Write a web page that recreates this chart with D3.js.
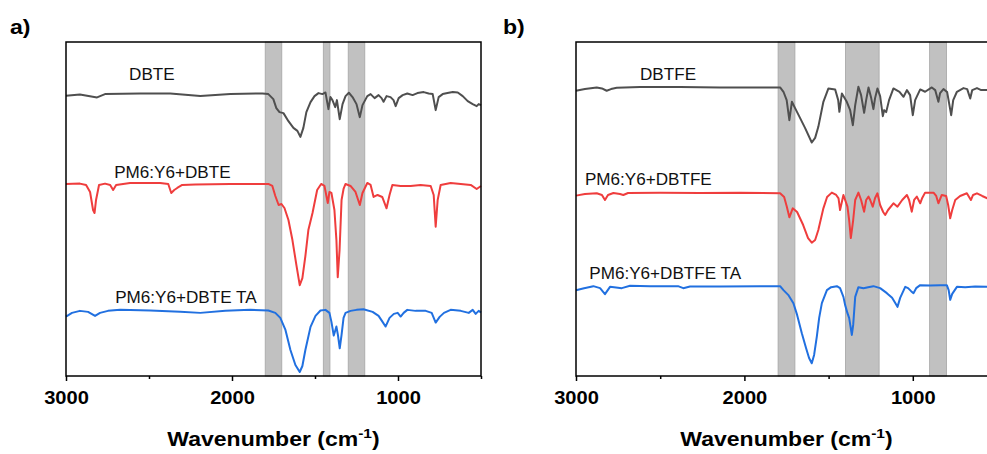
<!DOCTYPE html>
<html>
<head>
<meta charset="utf-8">
<script src="https://cdn.jsdelivr.net/npm/d3@7"></script>
<style>
  body { margin: 0; background: #fff; }
  svg { display: block; overflow: hidden; font-family: Arial, "Liberation Sans", sans-serif; }
</style>
</head>
<body>
<svg width="987" height="454"></svg>
<script>
// FTIR spectra, [wavenumber (cm-1), offset transmittance (a.u.)]
var dbte = [[3000,83.9],[2916,84.3],[2813,83.4],[2765,84.4],[2553,84.6],[2372,84.6],[2191,83.8],[2010,84.4],[1817,84.6],[1781,84.4],[1751,82.9],[1733,80.2],[1714,79.0],[1690,78.7],[1660,76.3],[1630,74.3],[1606,73.4],[1588,71.6],[1570,74.3],[1552,79.0],[1527,82.0],[1503,83.8],[1479,84.7],[1455,84.4],[1437,84.9],[1419,79.9],[1407,83.5],[1395,82.6],[1378,80.5],[1368,82.6],[1351,76.9],[1334,81.4],[1316,83.8],[1296,84.8],[1274,83.5],[1250,81.4],[1230,77.5],[1214,81.1],[1185,83.8],[1165,84.4],[1141,83.2],[1117,84.1],[1099,83.2],[1087,82.1],[1069,83.8],[1045,83.5],[1027,82.6],[1014,80.8],[996,83.2],[972,84.1],[944,84.6],[912,84.1],[883,84.7],[845,85.0],[815,84.6],[791,84.4],[773,79.6],[755,83.5],[731,84.4],[702,84.7],[670,85.0],[640,84.9],[610,83.8],[580,82.3],[550,81.4],[526,80.8],[514,81.4],[500,81.1]];
var pm6Dbte = [[3000,57.5],[2916,57.6],[2879,57.2],[2855,55.1],[2837,49.7],[2828,48.8],[2819,52.7],[2801,57.2],[2765,57.6],[2734,57.2],[2716,55.7],[2698,57.2],[2614,57.8],[2433,57.8],[2384,57.5],[2366,54.8],[2348,55.7],[2330,56.3],[2300,57.2],[2221,57.3],[2010,57.5],[1781,57.5],[1757,56.9],[1739,53.9],[1719,51.2],[1702,51.5],[1684,50.3],[1660,46.7],[1636,40.7],[1612,33.2],[1592,27.2],[1576,29.3],[1558,35.9],[1540,43.7],[1515,48.8],[1487,55.7],[1463,57.5],[1443,56.9],[1423,51.8],[1413,55.1],[1401,54.8],[1383,49.7],[1371,40.7],[1363,29.6],[1352,37.7],[1340,52.7],[1328,56.0],[1316,57.5],[1286,56.9],[1256,55.1],[1230,51.2],[1214,54.8],[1185,57.8],[1165,57.2],[1147,53.6],[1123,54.2],[1095,53.6],[1069,50.2],[1051,54.2],[1034,57.2],[984,56.9],[924,56.9],[864,57.2],[803,56.9],[785,54.2],[773,44.7],[761,52.7],[743,57.2],[683,57.8],[622,57.5],[562,57.2],[526,56.0],[500,56.9]];
var pm6DbteTA = [[3000,17.8],[2964,18.9],[2916,19.5],[2867,19.2],[2825,18.0],[2795,18.9],[2747,19.5],[2674,19.8],[2493,19.6],[2312,19.2],[2191,18.9],[2040,19.5],[1890,19.8],[1781,19.6],[1739,18.9],[1709,17.4],[1678,13.8],[1648,7.8],[1618,3.3],[1592,1.2],[1576,3.0],[1558,7.8],[1527,14.7],[1497,18.0],[1467,19.6],[1437,19.8],[1413,18.9],[1401,16.2],[1387,12.1],[1377,13.8],[1371,14.8],[1362,12.3],[1351,8.3],[1340,12.3],[1328,17.4],[1316,18.9],[1286,19.5],[1250,19.8],[1208,20.0],[1153,19.2],[1117,18.0],[1093,16.2],[1075,14.8],[1051,17.4],[1025,18.6],[1002,18.9],[984,17.8],[966,18.9],[944,19.8],[894,19.5],[833,19.5],[797,18.9],[773,16.0],[749,17.7],[723,18.9],[683,19.8],[622,19.5],[574,18.9],[550,19.8],[532,18.6],[514,19.5],[500,19.0]];

var dbtfe = [[3000,85.4],[2947,85.9],[2877,86.4],[2846,86.1],[2818,85.4],[2792,85.9],[2758,86.3],[2620,86.5],[2382,86.5],[2145,86.4],[1907,86.4],[1788,86.4],[1768,85.1],[1749,82.6],[1733,76.6],[1718,82.1],[1699,80.2],[1669,77.2],[1640,74.3],[1600,69.9],[1580,71.3],[1561,74.6],[1531,82.1],[1501,86.1],[1461,85.8],[1443,82.6],[1436,79.1],[1421,84.6],[1392,82.1],[1372,79.6],[1356,75.1],[1342,81.1],[1323,86.6],[1307,84.1],[1289,78.8],[1277,82.6],[1263,86.4],[1247,83.2],[1234,79.9],[1224,83.2],[1210,86.1],[1194,83.8],[1178,77.8],[1170,79.6],[1158,79.0],[1141,82.6],[1115,86.1],[1079,85.1],[1055,83.6],[1035,85.6],[1016,84.1],[1000,78.1],[986,82.6],[956,85.8],[927,85.1],[887,86.4],[867,85.6],[848,82.1],[838,84.7],[818,85.9],[796,85.0],[772,78.1],[760,82.6],[738,85.1],[699,86.2],[677,85.9],[659,83.1],[647,85.6],[619,86.2],[594,85.6],[558,85.6],[500,85.9]];
var pm6Dbtfe = [[3000,54.0],[2947,54.5],[2877,54.7],[2846,54.2],[2828,52.7],[2810,54.2],[2778,54.8],[2739,54.5],[2719,54.2],[2691,54.8],[2501,54.9],[2263,54.8],[2026,54.9],[1788,54.7],[1764,53.6],[1748,50.7],[1733,47.5],[1713,50.2],[1687,49.1],[1651,45.2],[1622,41.3],[1600,39.9],[1580,40.7],[1561,43.7],[1531,50.2],[1509,53.6],[1481,54.9],[1455,54.2],[1441,53.2],[1432,49.7],[1412,54.2],[1388,50.7],[1378,46.7],[1368,41.3],[1354,46.7],[1342,52.7],[1323,54.9],[1307,52.7],[1289,49.2],[1277,52.7],[1263,53.7],[1253,52.7],[1238,50.7],[1224,53.3],[1210,54.7],[1194,51.2],[1176,49.1],[1164,48.2],[1147,49.7],[1115,51.7],[1091,50.7],[1063,52.7],[1035,54.2],[1022,52.7],[1006,49.2],[992,52.7],[976,53.7],[956,51.7],[944,53.3],[927,54.9],[877,54.9],[861,53.9],[848,51.7],[828,54.2],[802,53.9],[790,51.2],[778,47.2],[766,49.7],[748,52.7],[719,53.9],[679,54.7],[655,52.7],[642,54.2],[619,54.7],[588,53.9],[558,53.2],[500,53.6]];
var pm6DbtfeTA = [[3000,25.7],[2952,26.3],[2897,26.9],[2857,26.3],[2828,24.5],[2798,26.7],[2762,26.5],[2728,26.3],[2679,27.0],[2560,26.9],[2394,26.9],[2363,26.3],[2323,26.8],[2145,26.8],[1907,26.9],[1788,26.9],[1768,25.7],[1740,24.3],[1709,21.8],[1687,18.3],[1659,12.8],[1634,8.4],[1616,5.4],[1600,3.8],[1586,6.3],[1570,11.8],[1556,17.4],[1540,21.8],[1510,25.7],[1485,26.6],[1451,26.9],[1432,26.3],[1412,23.7],[1402,21.3],[1388,18.8],[1378,17.4],[1362,12.3],[1354,15.3],[1342,23.7],[1323,26.6],[1293,26.3],[1265,26.6],[1234,26.9],[1194,26.3],[1154,24.8],[1123,23.4],[1105,21.9],[1091,20.7],[1075,23.4],[1045,26.7],[1028,26.3],[1010,25.4],[996,24.8],[980,26.3],[956,27.2],[897,27.1],[838,27.2],[798,27.2],[787,25.7],[778,22.8],[766,24.6],[738,26.7],[689,26.6],[630,26.8],[558,26.7],[500,26.6]];

// highlighted regions (cm-1)
var bandsA = [[1800, 1700], [1450, 1410], [1300, 1200]];
var bandsB = [[1800, 1700], [1400, 1200], [900, 800]];

var majorTicks = [3000, 2000, 1000];
var minorTicks = [2500, 1500, 500];

var seriesNamesA = ["DBTE", "PM6:Y6+DBTE", "PM6:Y6+DBTE TA"];
var seriesNamesB = ["DBTFE", "PM6:Y6+DBTFE", "PM6:Y6+DBTFE TA"];
var colors = ["#4f4f4f", "#ef3d3d", "#2170e0"];

var svg = d3.select("svg");

function drawPanel(opt) {
  var x = d3.scaleLinear().domain([3000, 500]).range([opt.left, opt.left + opt.width]);
  var y = d3.scaleLinear().domain([0, 100]).range([376, 42]);
  var g = svg.append("g");

  g.selectAll("rect.band")
    .data(opt.bands)
    .enter().append("rect")
      .attr("class", "band")
      .attr("x", d => x(d[0]))
      .attr("width", d => x(d[1]) - x(d[0]))
      .attr("y", y(100))
      .attr("height", y(0) - y(100))
      .attr("fill", "#c1c1c1")
      .attr("stroke", "#a5a5a5")
      .attr("stroke-width", 0.8);

  var line = d3.line().x(d => x(d[0])).y(d => y(d[1]));

  g.selectAll("path.spec")
    .data(opt.series)
    .enter().append("path")
      .attr("class", "spec")
      .attr("d", line)
      .attr("fill", "none")
      .attr("stroke", (d, i) => colors[i])
      .attr("stroke-width", 2)
      .attr("stroke-linejoin", "round");

  // the source figure's text is a bit wider than plain Arial, stretch it
  g.selectAll("text.lab")
    .data(opt.names)
    .enter().append("text")
      .attr("class", "lab")
      .attr("transform", (d, i) => "translate(" + x(opt.labelPos[i][0]) + "," + y(opt.labelPos[i][1]) + ") scale(1.07,1)")
      .attr("font-size", 16)
      .attr("fill", "#111")
      .text(d => d);

  // frame
  g.append("rect")
    .attr("x", x(3000)).attr("y", y(100))
    .attr("width", x(500) - x(3000)).attr("height", y(0) - y(100))
    .attr("fill", "none").attr("stroke", "#000").attr("stroke-width", 1.5);

  var axMajor = g.append("g")
    .attr("transform", "translate(0,376)")
    .call(d3.axisBottom(x).tickValues(majorTicks).tickSize(5).tickFormat(d3.format("d")));
  axMajor.select(".domain").remove();
  axMajor.selectAll("line").attr("stroke-width", 1.5);
  axMajor.selectAll("text")
    .attr("dy", null).attr("y", 28)
    .attr("transform", "scale(1.15,1)")
    .attr("font-size", 17.5).attr("font-weight", "bold")
    .attr("font-family", "Arial, 'Liberation Sans', sans-serif")
    .attr("fill", "#000");

  var axMinor = g.append("g")
    .attr("transform", "translate(0,376)")
    .call(d3.axisBottom(x).tickValues(minorTicks).tickSize(3).tickFormat(""));
  axMinor.select(".domain").remove();
  axMinor.selectAll("line").attr("stroke-width", 1.5);

  var title = g.append("text")
    .attr("transform", "translate(" + x(1750) + ",446) scale(1.15,1)")
    .attr("text-anchor", "middle")
    .attr("font-size", 20).attr("font-weight", "bold");
  title.append("tspan").text("Wavenumber (cm");
  title.append("tspan").attr("dy", -8).attr("font-size", 13.5).text("-1");
  title.append("tspan").attr("dy", 8).text(")");

  svg.append("text")
    .attr("transform", "translate(" + opt.tagX + ",34) scale(1.1,1)")
    .attr("font-size", 21).attr("font-weight", "bold")
    .text(opt.tag);
}

drawPanel({
  left: 66, width: 415, tag: "a)", tagX: 10,
  bands: bandsA,
  series: [dbte, pm6Dbte, pm6DbteTA],
  names: seriesNamesA,
  labelPos: [[2620, 88.6], [2710, 59.3], [2704, 21.9]]
});

drawPanel({
  left: 576, width: 421, tag: "b)", tagX: 503,
  bands: bandsB,
  series: [dbtfe, pm6Dbtfe, pm6DbtfeTA],
  names: seriesNamesB,
  labelPos: [[2620, 88.6], [2947, 57.2], [2921, 29.0]]
});
</script>
</body>
</html>
